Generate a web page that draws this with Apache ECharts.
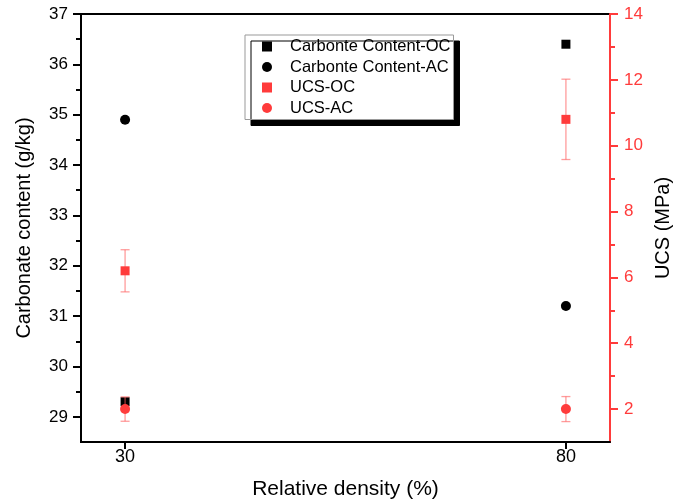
<!DOCTYPE html>
<html>
<head>
<meta charset="utf-8">
<script src="https://cdn.jsdelivr.net/npm/echarts@6/dist/echarts.min.js"></script>
<style>
  html, body { margin: 0; padding: 0; background: #fff; }
  #chart { width: 686px; height: 500px; }
</style>
</head>
<body>
<div id="chart"></div>
<script>
// Relative density (%) on the x axis
const densities = [30, 80];
// Carbonate content (g/kg), left axis
const carbonOC = [29.3, 36.4];
const carbonAC = [34.9, 31.2];
// UCS (MPa), right axis, with standard deviations
const ucsOC = [6.2, 10.8];
const ucsOCErr = [0.64, 1.22];
const ucsAC = [2.0, 2.0];
const ucsACErr = [0.37, 0.38];
// Tick labels
const xTicks = [30, 80];
const leftTicks = [29, 30, 31, 32, 33, 34, 35, 36, 37];
const leftMinor = [29.5, 30.5, 31.5, 32.5, 33.5, 34.5, 35.5, 36.5];
const rightTicks = [2, 4, 6, 8, 10, 12, 14];
const rightMinor = [3, 5, 7, 9, 11, 13];

const RED = '#ff3b3b';
const ERR = 'rgba(255, 90, 90, 0.6)';
const FONT = '"Liberation Sans", Arial, sans-serif';

const pairs = (ys) => densities.map((x, i) => [x, ys[i]]);
const errPairs = (ys, es) => densities.map((x, i) => [x, ys[i] - es[i], ys[i] + es[i]]);

function renderErr(params, api) {
  const x = api.value(0);
  const lo = api.coord([x, api.value(1)]);
  const hi = api.coord([x, api.value(2)]);
  const cap = 4.5;
  const style = { stroke: ERR, lineWidth: 1.3 };
  return {
    type: 'group',
    children: [
      { type: 'line', shape: { x1: lo[0], y1: lo[1], x2: hi[0], y2: hi[1] }, style },
      { type: 'line', shape: { x1: hi[0] - cap, y1: hi[1], x2: hi[0] + cap, y2: hi[1] }, style },
      { type: 'line', shape: { x1: lo[0] - cap, y1: lo[1], x2: lo[0] + cap, y2: lo[1] }, style }
    ]
  };
}

const chart = echarts.init(document.getElementById('chart'), null, { renderer: 'canvas' });

const leftBase = { type: 'value', position: 'left', min: 28.5, max: 37, interval: 0.5, splitLine: { show: false } };
const rightBase = { type: 'value', position: 'right', min: 1, max: 14, interval: 1, splitLine: { show: false } };

chart.setOption({
  animation: false,
  textStyle: { fontFamily: FONT },
  grid: {
    left: 81, top: 14, width: 529, height: 428,
    outerBoundsMode: 'none', containLabel: false,
    show: true, borderColor: '#000', borderWidth: 2, backgroundColor: 'transparent'
  },
  legend: {
    left: 245, top: 35,
    orient: 'vertical',
    padding: [3, 3, 3, 17],
    itemGap: 3.5,
    itemWidth: 36, itemHeight: 10,
    symbolKeepAspect: true,
    backgroundColor: '#fff',
    borderColor: '#999', borderWidth: 1, borderRadius: 0,
    shadowColor: '#000', shadowBlur: 0, shadowOffsetX: 6, shadowOffsetY: 6,
    textStyle: { fontFamily: FONT, fontSize: 16.5, color: '#000', lineHeight: 16 },
    data: [
      { name: 'Carbonte Content-OC', icon: 'path://M0,0H10V10H0Z' },
      { name: 'Carbonte Content-AC', icon: 'circle' },
      { name: 'UCS-OC', icon: 'path://M0,0H10V10H0Z' },
      { name: 'UCS-AC', icon: 'circle' }
    ]
  },
  xAxis: {
    type: 'value', min: 25, max: 85,
    name: 'Relative density (%)', nameLocation: 'middle', nameGap: 37,
    nameTextStyle: { fontFamily: FONT, fontSize: 21, color: '#000' },
    splitLine: { show: false },
    axisLine: { lineStyle: { color: '#000', width: 2 } },
    axisTick: { customValues: xTicks, length: 7, lineStyle: { color: '#000', width: 2 } },
    axisLabel: { customValues: xTicks, fontFamily: FONT, fontSize: 18, color: '#000', margin: 6 }
  },
  yAxis: [
    Object.assign({}, leftBase, {
      name: 'Carbonate content (g/kg)', nameLocation: 'middle', nameGap: 47,
      nameTextStyle: { fontFamily: FONT, fontSize: 20, color: '#000' },
      axisLine: { show: true, lineStyle: { color: '#000', width: 2 } },
      axisTick: { customValues: leftTicks, length: 8, lineStyle: { color: '#000', width: 2 } },
      axisLabel: { customValues: leftTicks, fontFamily: FONT, fontSize: 17, color: '#000', margin: 13 }
    }),
    Object.assign({}, rightBase, {
      name: 'UCS (MPa)', nameLocation: 'middle', nameGap: 40, nameRotate: 90,
      nameTextStyle: { fontFamily: FONT, fontSize: 20, color: '#000' },
      axisLine: { show: true, lineStyle: { color: RED, width: 2 } },
      axisTick: { customValues: rightTicks, length: 8, lineStyle: { color: RED, width: 2 } },
      axisLabel: { customValues: rightTicks, fontFamily: FONT, fontSize: 17, color: RED, margin: 14 }
    }),
    Object.assign({}, leftBase, {
      axisLine: { show: false },
      axisTick: { customValues: leftMinor, length: 5, lineStyle: { color: '#000', width: 2 } },
      axisLabel: { show: false }
    }),
    Object.assign({}, rightBase, {
      axisLine: { show: false },
      axisTick: { customValues: rightMinor, length: 5, lineStyle: { color: RED, width: 2 } },
      axisLabel: { show: false }
    })
  ],
  series: [
    {
      name: 'Carbonte Content-OC', type: 'scatter', yAxisIndex: 0,
      symbol: 'rect', symbolSize: 9, itemStyle: { color: '#000', opacity: 1 },
      data: pairs(carbonOC)
    },
    {
      name: 'Carbonte Content-AC', type: 'scatter', yAxisIndex: 0,
      symbol: 'circle', symbolSize: 10, itemStyle: { color: '#000', opacity: 1 },
      data: pairs(carbonAC)
    },
    {
      type: 'custom', yAxisIndex: 1, renderItem: renderErr,
      encode: { x: 0, y: [1, 2] }, data: errPairs(ucsOC, ucsOCErr), z: 3
    },
    {
      type: 'custom', yAxisIndex: 1, renderItem: renderErr,
      encode: { x: 0, y: [1, 2] }, data: errPairs(ucsAC, ucsACErr), z: 3
    },
    {
      name: 'UCS-OC', type: 'scatter', yAxisIndex: 1,
      symbol: 'rect', symbolSize: 9, itemStyle: { color: RED, opacity: 1 }, z: 4,
      data: pairs(ucsOC)
    },
    {
      name: 'UCS-AC', type: 'scatter', yAxisIndex: 1,
      symbol: 'circle', symbolSize: 10, itemStyle: { color: RED, opacity: 1 }, z: 4,
      data: pairs(ucsAC)
    }
  ]
});
</script>
</body>
</html>
